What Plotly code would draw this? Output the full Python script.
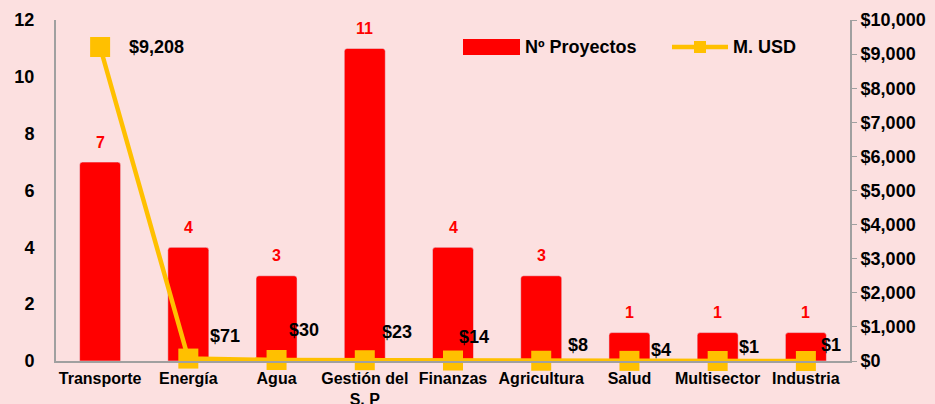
import plotly.graph_objects as go

categories = ["Transporte", "Energía", "Agua", "Gestión del<br>S. P", "Finanzas",
              "Agricultura", "Salud", "Multisector", "Industria"]
proyectos = [7, 4, 3, 11, 4, 3, 1, 1, 1]
usd = [9208, 71, 30, 23, 14, 8, 4, 1, 1]
usd_labels = ["$9,208", "$71", "$30", "$23", "$14", "$8", "$4", "$1", "$1"]
left_ticks = [0, 2, 4, 6, 8, 10, 12]

# label offsets (pixels) relative to each marker
label_xshift = [27, 20, 10, 15, 4, 25, 20, 19, 13]
label_yshift = [0, 23, 30, 28, 24, 16, 11, 14, 16]

FONT = "Liberation Sans, Arial, sans-serif"
BG = "#FCE0E0"
RED = "#FF0000"
YEL = "#FFC000"

fig = go.Figure()
fig.add_trace(go.Bar(
    x=categories, y=proyectos, name="Nº Proyectos",
    marker=dict(color=RED, cornerradius=3), width=0.465,
    showlegend=False,
))
fig.add_trace(go.Scatter(
    x=categories, y=usd, name="M. USD", yaxis="y2",
    mode="lines+markers",
    line=dict(color=YEL, width=4.5),
    marker=dict(symbol="square", size=20, color=YEL),
    cliponaxis=False, showlegend=False,
))

for c, v in zip(categories, proyectos):
    fig.add_annotation(x=c, y=v, yref="y", text=f"<b>{v}</b>", showarrow=False,
                       yanchor="middle", yshift=20,
                       font=dict(size=16, color=RED, family=FONT))

for c, v, t, xs, ys in zip(categories, usd, usd_labels, label_xshift, label_yshift):
    fig.add_annotation(x=c, y=v, yref="y2", text=f"<b>{t}</b>", showarrow=False,
                       xanchor="left", yanchor="middle", xshift=xs, yshift=ys,
                       font=dict(size=18, color="#000000", family=FONT))

# custom legend (wide swatches like the original)
fig.add_shape(type="rect", xref="paper", yref="paper",
              x0=(463 - 56) / 794, x1=(520 - 56) / 794,
              y0=(361 - 55) / 341, y1=(361 - 39) / 341,
              fillcolor=RED, line=dict(width=0))
fig.add_annotation(xref="paper", yref="paper", x=(523 - 56) / 794, y=(361 - 47) / 341,
                   text="<b>Nº Proyectos</b>", showarrow=False, xanchor="left",
                   yanchor="middle", font=dict(size=18, family=FONT, color="#000000"))
fig.add_shape(type="line", xref="paper", yref="paper",
              x0=(672 - 56) / 794, x1=(728 - 56) / 794,
              y0=(361 - 47) / 341, y1=(361 - 47) / 341,
              line=dict(color=YEL, width=4.5))
fig.add_shape(type="rect", xref="paper", yref="paper",
              x0=(694 - 56) / 794, x1=(706 - 56) / 794,
              y0=(361 - 53) / 341, y1=(361 - 41) / 341,
              fillcolor=YEL, line=dict(width=0))
fig.add_annotation(xref="paper", yref="paper", x=(731 - 56) / 794, y=(361 - 47) / 341,
                   text="<b>M. USD</b>", showarrow=False, xanchor="left",
                   yanchor="middle", font=dict(size=18, family=FONT, color="#000000"))

fig.update_layout(
    width=935, height=404,
    margin=dict(l=56, r=85, t=20, b=43, autoexpand=False),
    paper_bgcolor=BG, plot_bgcolor=BG,
    font=dict(family=FONT, size=16, color="#000000"),
    showlegend=False,
    xaxis=dict(range=[-0.5, len(categories) - 0.5], showline=True, linecolor="#A0A0A0",
               linewidth=2, ticks="",
               tickfont=dict(size=16, family=FONT, weight="bold"),
               showgrid=False, automargin=False, ticklabelstandoff=2),
    yaxis=dict(range=[0, 12], tickvals=left_ticks, showline=True, linecolor="#A0A0A0",
               linewidth=2, showgrid=False, ticks="", zeroline=False, automargin=False,
               tickfont=dict(size=18, family=FONT, weight="bold"), ticklabelstandoff=16),
    yaxis2=dict(range=[0, 10000], dtick=1000, overlaying="y", side="right",
                showline=True, linecolor="#A0A0A0", linewidth=2, showgrid=False,
                ticks="outside", ticklen=5, tickcolor="#A0A0A0", zeroline=False,
                tickprefix="$", tickformat=",", automargin=False,
                tickfont=dict(size=18, family=FONT, weight="bold")),
)

fig.write_html("out.html", config={"displayModeBar": False},
               post_script="document.body.style.margin='0';document.body.style.padding='0';")
